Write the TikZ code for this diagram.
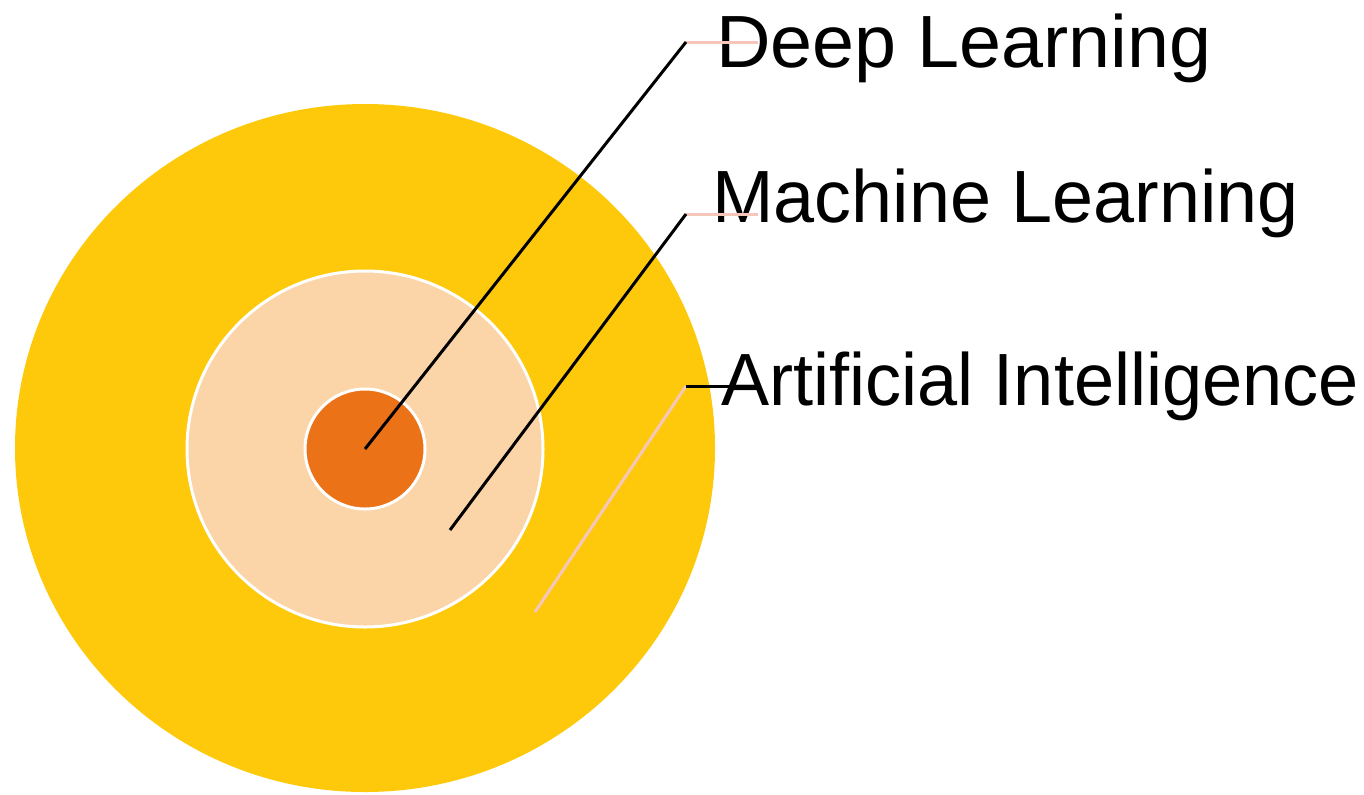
\documentclass[tikz,border=0pt]{standalone}
\usepackage{fontspec}
\setmainfont{Liberation Sans}
\usetikzlibrary{shapes.geometric}
\definecolor{aiyellow}{HTML}{FDC90A}
\definecolor{mlpeach}{HTML}{FBD4A7}
\definecolor{dlorange}{HTML}{EC7218}
\definecolor{leadpink}{HTML}{F6C6BA}
\tikzset{
  ring/.style={ellipse, inner sep=0pt},
  label text/.style={anchor=base west, inner sep=0pt, font=\fontsize{37pt}{44pt}\selectfont},
  lead/.style={line width=1.5pt},
  leadsoft/.style={line width=1.5pt, leadpink},
}
\begin{document}
\begin{tikzpicture}[x=0.5pt, y=-0.5pt]
  \useasboundingbox (0,0) rectangle (1364,794);
  % nested sets
  \node[ring, fill=aiyellow, minimum width=350pt, minimum height=344pt] (ai) at (365,448) {};
  \node[ring, fill=mlpeach, draw=white, line width=1.5pt, minimum width=178pt, minimum height=178pt] (ml) at (365,449) {};
  \node[ring, fill=dlorange, draw=white, line width=1.5pt, minimum width=60pt, minimum height=60pt] (dl) at (365,449) {};
  % labels
  \node[label text] (tdl) at (716,67) {\scalebox{1.02}[1]{Deep Learning}};
  \node[label text] (tml) at (712,222) {\scalebox{0.997}[1]{Machine Learning}};
  \node[label text] (tai) at (721,405) {\scalebox{0.975}[1]{Artificial Intelligence}};
  % leader points
  \coordinate (pdl) at (365,449);
  \coordinate (pml) at (450,530);
  \coordinate (pai) at (535,612);
  \coordinate (kdl) at (686,42);
  \coordinate (kml) at (686,214);
  \coordinate (kai) at (686,386);
  \coordinate (edl) at (758,42);
  \coordinate (eml) at (758,214);
  \coordinate (eai) at (760,386);
  % leaders
  \draw[leadsoft] (kdl) -- (edl);
  \draw[leadsoft] (kml) -- (eml);
  \draw[leadsoft] (pai) -- (kai);
  \draw[lead] (pdl) -- (kdl);
  \draw[lead] (pml) -- (kml);
  \draw[lead] (kai) -- (eai);
\end{tikzpicture}
\end{document}
